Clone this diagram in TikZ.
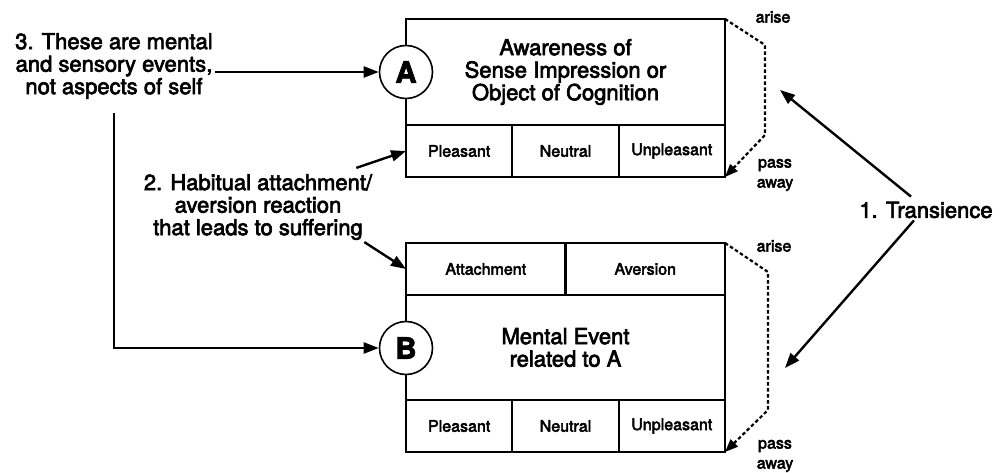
\documentclass[tikz,border=0pt]{standalone}
\usepackage{fontspec}
\setmainfont{TeX Gyre Heros}[FakeBold=3]
\usetikzlibrary{arrows.meta, positioning, calc}

\tikzset{
  cell/.style={draw, line width=2.2pt, inner sep=0pt, outer sep=0pt, minimum height=52pt, font=\fontsize{16}{18}\selectfont},
  bigcell/.style={draw, line width=2.2pt, inner sep=0pt, outer sep=0pt, minimum width=319pt, align=center, font=\fontsize{22}{22.5}\selectfont},
  event/.style={circle, draw, fill=white, line width=1.6pt, minimum size=53pt, inner sep=0pt, font=\fontsize{29}{30}\selectfont\bfseries},
  note/.style={align=center, inner sep=2pt, font=\fontsize{22}{22.5}\selectfont},
  tag/.style={align=center, inner sep=0pt, font=\fontsize{16}{20}\selectfont},
  pointer/.style={-{Triangle[length=15pt,width=11pt]}, line width=2.4pt},
  bracket/.style={-{Triangle[length=13pt,width=10pt]}, line width=2.2pt, dash pattern=on 3.5pt off 2.5pt},
}

\begin{document}
\begin{tikzpicture}[x=1pt, y=-1pt]
  \useasboundingbox (0,0) rectangle (1005,473);

  % A: awareness box
  \node[bigcell, minimum height=106pt] (awareA) at (565.5,72) {Awareness of\\Sense Impression or\\Object of Cognition};
  \node[cell, minimum width=106.33pt] (pleasA) at (459.17,151) {Pleasant};
  \node[cell, minimum width=106.33pt] (neutA) at (565.5,151) {Neutral};
  \node[cell, minimum width=106.33pt] (unplA) at (671.83,151) {Unpleasant};
  \node[event] (circA) at (406,72) {A};

  % B: mental event box
  \node[cell, minimum width=159.5pt] (attachB) at (485.75,269) {Attachment};
  \node[cell, minimum width=159.5pt] (aversB) at (645.25,269) {Aversion};
  \node[bigcell, minimum height=105pt] (mentalB) at (565.5,347.5) {Mental Event\\related to A};
  \node[cell, minimum width=106.33pt] (pleasB) at (459.17,426) {Pleasant};
  \node[cell, minimum width=106.33pt] (neutB) at (565.5,426) {Neutral};
  \node[cell, minimum width=106.33pt] (unplB) at (671.83,426) {Unpleasant};
  \node[event] (circB) at (406,348) {B};

  % arise / pass away
  \node[tag] (ariseA) at (773,17) {arise};
  \node[tag] (passA) at (775,175) {pass\\away};
  \node[tag] (ariseB) at (774,246) {arise};
  \node[tag] (passB) at (775,456) {pass\\away};
  \draw[bracket] (awareA.north east) -- ++(40,26) -- ++(0,90) -- (unplA.south east);
  \draw[bracket] (aversB.north east) -- ++(43,29) -- ++(0,138) -- (unplB.south east);

  % 1. Transience
  \node[note] (trans) at (926,210) {1. Transience};
  \coordinate (tipA) at (780,90);
  \coordinate (tipB) at (785,368);
  \draw[pointer] ([xshift=-15pt,yshift=3pt]trans.north) -- (tipA);
  \draw[pointer] ([xshift=-12pt]trans.south) -- (tipB);

  % 2. Habitual reaction
  \node[note] (note2) at (258,207) {2. Habitual attachment/\\aversion reaction\\that leads to suffering};
  \draw[pointer] ([xshift=-18pt,yshift=4pt]note2.north east) -- (pleasA.west);
  \draw[pointer] ([xshift=-10pt]note2.south east) -- (attachB.west);

  % 3. Not self
  \node[note] (note3) at (114,66) {3. These are mental\\and sensory events,\\not aspects of self};
  \draw[pointer] (note3.east |- circA.west) -- (circA.west);
  \draw[pointer] ([yshift=-12pt]note3.south) -- (note3.south |- circB.west) -- (circB.west);
\end{tikzpicture}
\end{document}
